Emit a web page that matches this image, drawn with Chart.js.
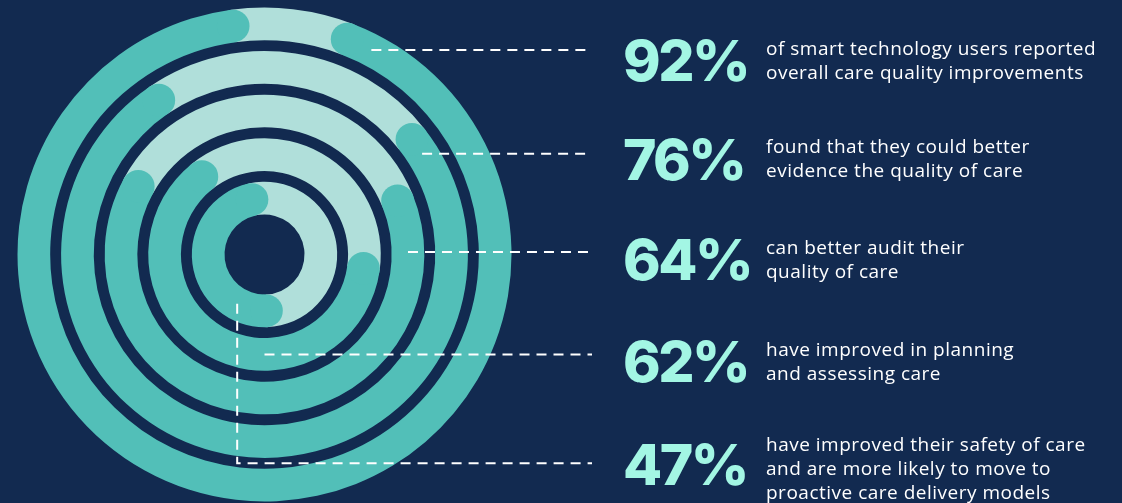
<!DOCTYPE html>
<html>
<head>
<meta charset="utf-8">
<script src="https://cdn.jsdelivr.net/npm/chart.js@4.4.1/dist/chart.umd.min.js"></script>
<style>
  html, body { margin: 0; padding: 0; background: #122a50; }
  #wrap { position: relative; width: 1122px; height: 503px; overflow: hidden; background: #122a50; }
  #wrap canvas { position: absolute; left: 0; top: 0; }
  .pct { position: absolute; left: 623px; font-family: Inter, "Open Sans", sans-serif; font-weight: 800;
         font-size: 57px; line-height: 60px; color: #a3f6e4; letter-spacing: -2.5px; white-space: nowrap; }
  .txt { position: absolute; left: 766px; font-family: "Open Sans", sans-serif; font-size: 19px;
         line-height: 24px; color: #ffffff; letter-spacing: 0.5px; white-space: nowrap; }
</style>
</head>
<body>
<div id="wrap">
  <canvas id="rings" width="1122" height="503"></canvas>
</div>
<script>
// data
const percentLabels = ["92%", "76%", "64%", "62%", "47%"];
const values = [92, 76, 64, 62, 47];
const descriptions = [
  ["of smart technology users reported", "overall care quality improvements"],
  ["found that they could better", "evidence the quality of care"],
  ["can better audit their", "quality of care"],
  ["have improved in planning", "and assessing care"],
  ["have improved their safety of care", "and are more likely to move to", "proactive care delivery models"]
];

// layout / style
const TEAL = "#52bfb8";
const LIGHT = "#b0dfda";
const RING_WEIGHT = 3;
const GAP_WEIGHT = 1;
const startAngles = [21, 52, 68, 98, 178];     // where each ring's teal arc begins (deg, clockwise from top)
const leaderAngles = [27.6, 57.4, 89, 180, 209];
const LEADER_END_X = 592;
const pctCenters = [61, 160, 260, 362, 465];
const txtBaselines = [55, 153, 254, 356, 451];

// one ring per value, thin transparent spacer rings between them
const datasets = [];
values.forEach((v, i) => {
  if (i > 0) {
    datasets.push({ data: [1], backgroundColor: ["rgba(0,0,0,0)"], weight: GAP_WEIGHT, spacer: true });
  }
  datasets.push({
    label: percentLabels[i],
    data: [v, 100 - v],
    backgroundColor: [TEAL, LIGHT],
    weight: RING_WEIGHT,
    rotation: startAngles[i]
  });
});

const roundCaps = {
  id: "roundCaps",
  afterDatasetsDraw(chart) {
    const ctx = chart.ctx;
    chart.data.datasets.forEach((ds, i) => {
      if (ds.spacer) return;
      const arc = chart.getDatasetMeta(i).data[0];
      const r = (arc.innerRadius + arc.outerRadius) / 2;
      const cap = (arc.outerRadius - arc.innerRadius) / 2;
      ctx.save();
      ctx.fillStyle = ds.backgroundColor[0];
      [arc.startAngle, arc.endAngle].forEach(a => {
        ctx.beginPath();
        ctx.arc(arc.x + r * Math.cos(a), arc.y + r * Math.sin(a), cap, 0, Math.PI * 2);
        ctx.fill();
      });
      ctx.restore();
    });
  }
};

const leaders = {
  id: "leaders",
  afterDatasetsDraw(chart) {
    const ctx = chart.ctx;
    const ringIdx = [];
    chart.data.datasets.forEach((ds, i) => { if (!ds.spacer) ringIdx.push(i); });
    ctx.save();
    ctx.strokeStyle = "#ffffff";
    ctx.lineWidth = 2;
    ctx.setLineDash([10, 7]);
    ringIdx.forEach((di, k) => {
      const arc = chart.getDatasetMeta(di).data[0];
      const r = (arc.innerRadius + arc.outerRadius) / 2;
      const a = (leaderAngles[k] - 90) * Math.PI / 180;
      const sx = arc.x + r * Math.cos(a);
      const sy = arc.y + r * Math.sin(a);
      ctx.beginPath();
      ctx.moveTo(sx, sy);
      if (k === ringIdx.length - 1) {
        // drop down into the gap between the two outer rings
        const outer = chart.getDatasetMeta(ringIdx[0]).data[0];
        const second = chart.getDatasetMeta(ringIdx[1]).data[0];
        const ey = arc.y + (outer.innerRadius + second.outerRadius) / 2;
        ctx.lineTo(sx, ey);
        ctx.lineTo(LEADER_END_X, ey);
      } else {
        ctx.lineTo(LEADER_END_X, sy);
      }
      ctx.stroke();
    });
    ctx.restore();
  }
};

new Chart(document.getElementById("rings"), {
  type: "doughnut",
  data: { labels: ["reported", "rest"], datasets },
  options: {
    responsive: false,
    animation: false,
    events: [],
    cutout: 40,
    layout: { padding: { left: 17.5, top: 7.5, right: 610.5, bottom: 1.5 } },
    elements: { arc: { borderWidth: 0 } },
    plugins: { legend: { display: false }, tooltip: { enabled: false } }
  },
  plugins: [roundCaps, leaders]
});

// labels on the right
const wrap = document.getElementById("wrap");
percentLabels.forEach((p, i) => {
  const el = document.createElement("div");
  el.className = "pct";
  el.textContent = p;
  el.style.top = (pctCenters[i] - 30) + "px";
  wrap.appendChild(el);

  const t = document.createElement("div");
  t.className = "txt";
  t.innerHTML = descriptions[i].join("<br>");
  t.style.top = (txtBaselines[i] - 19) + "px";
  wrap.appendChild(t);
});
</script>
</body>
</html>
